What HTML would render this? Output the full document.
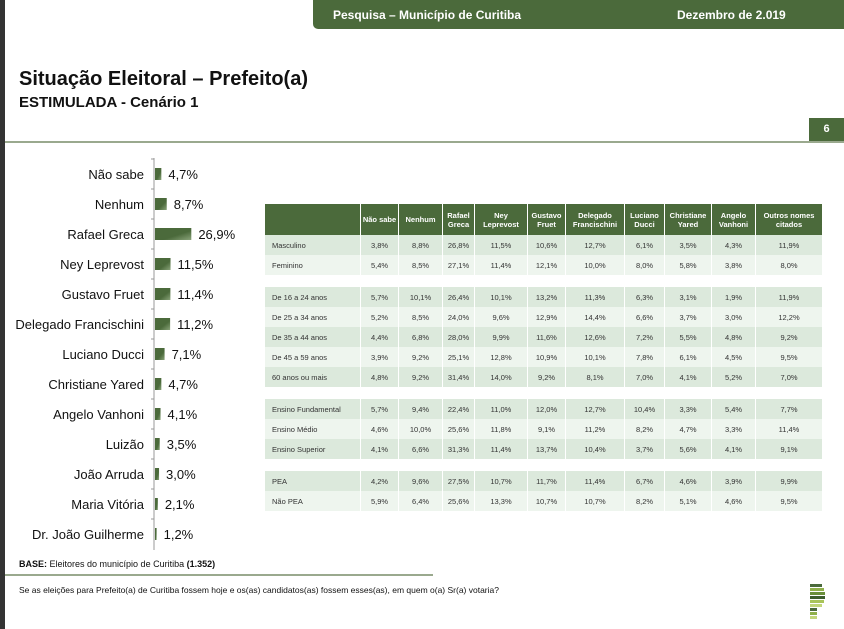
<!DOCTYPE html>
<html><head><meta charset="utf-8"><style>
body{margin:0;width:844px;height:629px;position:relative;background:#fff;font-family:"Liberation Sans",sans-serif;overflow:hidden}
.abs{position:absolute}
table{border-collapse:collapse;font-size:7.5px;color:#333}
td{height:20px;padding:0;text-align:center;border-left:1.5px solid #fff;border-right:1.5px solid #fff}
td.l{text-align:left;padding-left:7px}
th{background:#4b6a3b;color:#fff;font-size:7.5px;height:31px;padding:0;border-left:1.5px solid #fff;border-right:1.5px solid #fff;line-height:9px;font-weight:bold}
tr.a td{background:#dce9dc}
tr.b td{background:#eef5ee}
tr.g td{height:12px;background:#fff}
</style></head><body>
<div class="abs" style="left:0;top:0;width:5px;height:629px;background:#333"></div>
<div class="abs" style="left:313px;top:0;width:531px;height:29px;background:#4b6a3b;border-bottom-left-radius:5px;color:#fff;font-size:12px;font-weight:bold">
<span class="abs" style="left:20px;top:8px">Pesquisa – Município de Curitiba</span>
<span class="abs" style="left:364px;top:8px">Dezembro de 2.019</span></div>
<div class="abs" style="left:19px;top:68px;font-size:20px;font-weight:bold;color:#111">Situação Eleitoral – Prefeito(a)</div>
<div class="abs" style="left:19px;top:94px;font-size:15px;font-weight:bold;color:#111">ESTIMULADA - Cenário 1</div>
<div class="abs" style="left:809px;top:118px;width:35px;height:23px;background:#4b6a3b;color:#fff;font-size:11px;font-weight:bold;text-align:center;line-height:23px">6</div>
<div class="abs" style="left:5px;top:141px;width:839px;height:2px;background:#9aa98e"></div>
<svg class="abs" id="chart" style="left:0;top:150px" width="260" height="400"></svg>
<div class="abs" style="left:264px;top:204px">
<table id="tbl"><colgroup><col style="width:96px"><col style="width:38px"><col style="width:44px"><col style="width:32px"><col style="width:53px"><col style="width:38px"><col style="width:59px"><col style="width:40px"><col style="width:47px"><col style="width:44px"><col style="width:67px"></colgroup>
<tr><th></th><th>Não sabe</th><th>Nenhum</th><th>Rafael<br>Greca</th><th>Ney<br>Leprevost</th><th>Gustavo<br>Fruet</th><th>Delegado<br>Francischini</th><th>Luciano<br>Ducci</th><th>Christiane<br>Yared</th><th>Angelo<br>Vanhoni</th><th>Outros nomes<br>citados</th></tr>
</table></div>
<div class="abs" style="left:19px;top:559px;font-size:9px;color:#111"><b>BASE:</b> Eleitores do município de Curitiba <b>(1.352)</b></div>
<div class="abs" style="left:5px;top:574px;width:428px;height:2px;background:#9aa98e"></div>
<div class="abs" style="left:19px;top:585px;font-size:8.5px;color:#111">Se as eleições para Prefeito(a) de Curitiba fossem hoje e os(as) candidatos(as) fossem esses(as), em quem o(a) Sr(a) votaria?</div>
<svg class="abs" style="left:810px;top:584px" width="20" height="40">
<rect x="0" y="0" width="12" height="3" fill="#4b6a3b"/><rect x="0" y="4" width="14" height="3" fill="#8fb04a"/><rect x="0" y="8" width="15" height="3" fill="#6a8f3a"/><rect x="0" y="12" width="15" height="3" fill="#3e5e2e"/><rect x="0" y="16" width="14" height="3" fill="#a9c45a"/><rect x="0" y="20" width="12" height="3" fill="#c2d67a"/><rect x="0" y="24" width="7" height="3" fill="#4b6a3b"/><rect x="0" y="28" width="7" height="3" fill="#8fb04a"/><rect x="0" y="32" width="7" height="3" fill="#c2d67a"/></svg>
<script>
const names=["Não sabe","Nenhum","Rafael Greca","Ney Leprevost","Gustavo Fruet","Delegado Francischini","Luciano Ducci","Christiane Yared","Angelo Vanhoni","Luizão","João Arruda","Maria Vitória","Dr. João Guilherme"];
const values=[4.7,8.7,26.9,11.5,11.4,11.2,7.1,4.7,4.1,3.5,3.0,2.1,1.2];
const NS="http://www.w3.org/2000/svg";
const svg=document.getElementById('chart');
const x0=155,scale=1.35,y0=24,step=30;
const xs=v=>v*scale, ys=i=>y0+i*step;
function mk(t,a){const e=document.createElementNS(NS,t);for(const k in a)e.setAttribute(k,a[k]);svg.appendChild(e);return e;}
const defs=mk('defs',{});
const g=document.createElementNS(NS,'linearGradient');g.id='bg';g.setAttribute('x1','0');g.setAttribute('y1','0');g.setAttribute('x2','1');g.setAttribute('y2','1');
g.innerHTML='<stop offset="0" stop-color="#4b6a3b"/><stop offset="0.6" stop-color="#4b6a3b"/><stop offset="1" stop-color="#8aa47a"/>';defs.appendChild(g);
const ax=mk('line',{x1:x0-1,x2:x0-1,y1:ys(0)-16,y2:ys(names.length-1)+16,stroke:'#999','stroke-width':1});


names.forEach((n,i)=>{
 const tk=mk('line',{x1:x0-4,x2:x0-1,y1:ys(i)-15,y2:ys(i)-15,stroke:'#999'});
 
 
 const lb=mk('text',{x:x0-11,y:ys(i)+5,'text-anchor':'end','font-size':13,fill:'#111','font-family':'Liberation Sans'});lb.textContent=n;
 
 
 const b=mk('rect',{x:x0,y:ys(i)-6,width:xs(values[i]),height:12,fill:'url(#bg)'});
 
 
 const v=mk('text',{x:x0+xs(values[i])+7,y:ys(i)+5,'font-size':13,fill:'#111','font-family':'Liberation Sans'});v.textContent=values[i].toFixed(1).replace('.',',')+'%';
 
 
});
const rowLabels=["Masculino","Feminino",null,"De 16 a 24 anos","De 25 a 34 anos","De 35 a 44 anos","De 45 a 59 anos","60 anos ou mais",null,"Ensino Fundamental","Ensino Médio","Ensino Superior",null,"PEA","Não PEA"];
const rowValues=[
["3,8%","8,8%","26,8%","11,5%","10,6%","12,7%","6,1%","3,5%","4,3%","11,9%"],
["5,4%","8,5%","27,1%","11,4%","12,1%","10,0%","8,0%","5,8%","3,8%","8,0%"],null,
["5,7%","10,1%","26,4%","10,1%","13,2%","11,3%","6,3%","3,1%","1,9%","11,9%"],
["5,2%","8,5%","24,0%","9,6%","12,9%","14,4%","6,6%","3,7%","3,0%","12,2%"],
["4,4%","6,8%","28,0%","9,9%","11,6%","12,6%","7,2%","5,5%","4,8%","9,2%"],
["3,9%","9,2%","25,1%","12,8%","10,9%","10,1%","7,8%","6,1%","4,5%","9,5%"],
["4,8%","9,2%","31,4%","14,0%","9,2%","8,1%","7,0%","4,1%","5,2%","7,0%"],null,
["5,7%","9,4%","22,4%","11,0%","12,0%","12,7%","10,4%","3,3%","5,4%","7,7%"],
["4,6%","10,0%","25,6%","11,8%","9,1%","11,2%","8,2%","4,7%","3,3%","11,4%"],
["4,1%","6,6%","31,3%","11,4%","13,7%","10,4%","3,7%","5,6%","4,1%","9,1%"],null,
["4,2%","9,6%","27,5%","10,7%","11,7%","11,4%","6,7%","4,6%","3,9%","9,9%"],
["5,9%","6,4%","25,6%","13,3%","10,7%","10,7%","8,2%","5,1%","4,6%","9,5%"]];
const tbl=document.getElementById('tbl');let k=0;
rowLabels.forEach((l,i)=>{const tr=document.createElement('tr');
 if(l===null){tr.className='g';tr.innerHTML='<td colspan="11"></td>';k=0;}
 else{tr.className=(k++%2===0)?'a':'b';tr.innerHTML='<td class="l">'+l+'</td>'+rowValues[i].map(v=>'<td>'+v+'</td>').join('');}
 
 
 tbl.appendChild(tr);});
</script>
</body></html>
